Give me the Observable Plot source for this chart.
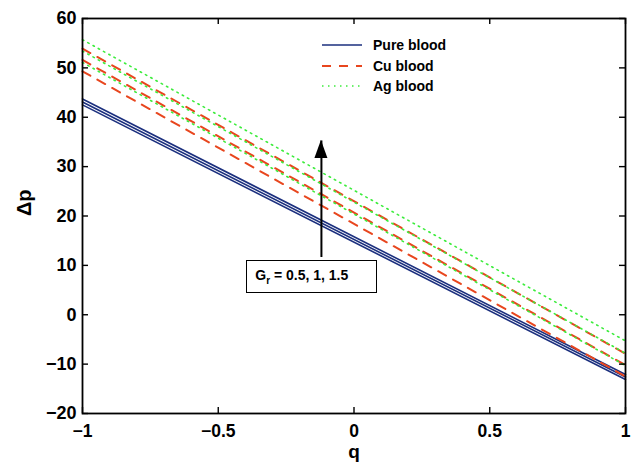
<!DOCTYPE html>
<html><head><meta charset="utf-8">
<script src="https://cdn.jsdelivr.net/npm/d3@7"></script>
<script src="https://cdn.jsdelivr.net/npm/@observablehq/plot@0.6"></script>
<style>
body{margin:0;background:#fff;}
#wrap{position:relative;width:635px;height:465px;font-family:"Liberation Sans",Arial,Helvetica,sans-serif;font-weight:bold;color:#000;}
#legend{position:absolute;left:321px;top:35px;font-size:14px;}
#legend .row{height:20.5px;display:flex;align-items:center;}
#legend svg{width:42px;height:10px;margin-right:10px;}
#annot{position:absolute;box-sizing:border-box;border:1.5px solid #000;background:#fff;font-size:14px;padding-left:7px;white-space:nowrap;}
#annot span.t{position:absolute;left:8px;top:6px;line-height:16px;}
#annot sub{font-size:10px;vertical-align:-4px;line-height:0;}
</style></head><body>
<div id="wrap"></div>
<script>
// ---- data ----
const q = [-1, 1];
const grValues = [0.5, 1, 1.5];
const pureBlood = [[42.5, -13.1], [43.1, -12.6], [43.7, -12.1]];  // per Gr, at q = -1, 1
const cuBlood   = [[49.3, -12.5], [51.6, -10.2], [53.9, -7.9]];
const agBlood   = [[51.1, -10.3], [53.4, -7.8], [55.7, -5.3]];
const fluids = ["Pure blood", "Cu blood", "Ag blood"];
const xTicks = [-1, -0.5, 0, 0.5, 1];
const xTickLabels = ["\u22121", "\u22120.5", "0", "0.5", "1"];
const yTicks = [-20, -10, 0, 10, 20, 30, 40, 50, 60];
const yTickLabels = ["\u221220", "\u221210", "0", "10", "20", "30", "40", "50", "60"];
const annotText = "G_r = 0.5, 1, 1.5";
const annotBox = {q1: -0.395, q2: 0.085, dp1: 10.9, dp2: 4.3};
const annotArrow = {q: -0.12, from: 11.7, to: 35.3};

const colors = {"Pure blood": "#1b2f7e", "Cu blood": "#e8461e", "Ag blood": "#3cec3c"};
const dashes = {"Pure blood": null, "Cu blood": "9,8", "Ag blood": "1.5,4.5"};
const widths = {"Pure blood": 1.6, "Cu blood": 2, "Ag blood": 1.6};

const series = {"Pure blood": pureBlood, "Cu blood": cuBlood, "Ag blood": agBlood};
const rows = [];
fluids.forEach(f => series[f].forEach((vals, gi) => vals.forEach((v, qi) =>
  rows.push({fluid: f, gr: grValues[gi], q: q[qi], dp: v}))));

const W = 635, H = 465, mL = 82, mR = 10, mT = 18, mB = 52;
const frameH = H - mT - mB, frameW = W - mL - mR;
const tick = 6;

const plot = Plot.plot({
  width: W, height: H,
  marginLeft: mL, marginRight: mR, marginTop: mT, marginBottom: mB,
  style: {fontFamily: '"Liberation Sans", Arial, Helvetica, sans-serif', fontWeight: "bold", fontSize: "18px", background: "#fff", color: "#000"},
  x: {domain: [-1, 1]},
  y: {domain: [-20, 60]},
  marks: [
    ...fluids.map(f => Plot.line(rows.filter(r => r.fluid === f), {
      x: "q", y: "dp", z: "gr", stroke: colors[f], strokeWidth: widths[f],
      strokeDasharray: dashes[f]
    })),
    Plot.ruleX(xTicks, {x: d => d, insetTop: frameH - tick, stroke: "#000", strokeWidth: 1.4}),
    Plot.ruleX(xTicks, {x: d => d, insetBottom: frameH - tick, stroke: "#000", strokeWidth: 1.4}),
    Plot.ruleY(yTicks, {y: d => d, insetRight: frameW - tick, stroke: "#000", strokeWidth: 1.4}),
    Plot.ruleY(yTicks, {y: d => d, insetLeft: frameW - tick, stroke: "#000", strokeWidth: 1.4}),
    Plot.axisX(xTicks, {anchor: "bottom", tickSize: 0, tickPadding: 11, label: null,
      tickFormat: d => xTickLabels[xTicks.indexOf(d)], fontSize: 17.5, fontWeight: "bold"}),
    Plot.axisY(yTicks, {anchor: "left", tickSize: 0, tickPadding: 6, label: null,
      tickFormat: d => yTickLabels[yTicks.indexOf(d)], fontSize: 18, fontWeight: "bold"}),
    Plot.text(["q"], {frameAnchor: "bottom", lineAnchor: "middle", dy: 38, fontSize: 19, fontWeight: "bold"}),
    Plot.text(["\u0394p"], {frameAnchor: "left", lineAnchor: "middle", dx: -58, rotate: -90, fontSize: 20, fontWeight: "bold"}),
    Plot.link([annotArrow], {x1: d => d.q, x2: d => d.q, y1: d => d.from, y2: d => d.to, stroke: "#000", strokeWidth: 2}),
    Plot.frame({stroke: "#000", strokeWidth: 1.8})
  ]
});

const wrap = document.getElementById("wrap");
wrap.appendChild(plot);

const sx = plot.scale("x"), sy = plot.scale("y");
// arrow head (filled)
const tipX = sx.apply(annotArrow.q), tipY = sy.apply(annotArrow.to);
d3.select(plot).append("polygon")
  .attr("points", `${tipX},${tipY} ${tipX - 6.5},${tipY + 18} ${tipX + 6.5},${tipY + 18}`)
  .attr("fill", "#000");

// annotation box
const box = document.createElement("div");
box.id = "annot";
const bx1 = sx.apply(annotBox.q1), bx2 = sx.apply(annotBox.q2);
const by1 = sy.apply(annotBox.dp1), by2 = sy.apply(annotBox.dp2);
Object.assign(box.style, {left: bx1 + "px", top: by1 + "px", width: (bx2 - bx1) + "px", height: (by2 - by1) + "px"});
const parts = annotText.split("_");
box.innerHTML = '<span class="t">' + parts[0] + "<sub>" + parts[1][0] + "</sub>" + parts[1].slice(1) + "</span>";
wrap.appendChild(box);

// legend
const leg = document.createElement("div");
leg.id = "legend";
fluids.forEach(f => {
  const row = document.createElement("div");
  row.className = "row";
  row.innerHTML = `<svg viewBox="0 0 42 10"><line x1="1" y1="5" x2="41" y2="5" stroke="${colors[f]}" stroke-width="${widths[f]}" ${dashes[f] ? `stroke-dasharray="${dashes[f]}"` : ""}/></svg><span>${f}</span>`;
  leg.appendChild(row);
});
wrap.appendChild(leg);
</script>
</body></html>
